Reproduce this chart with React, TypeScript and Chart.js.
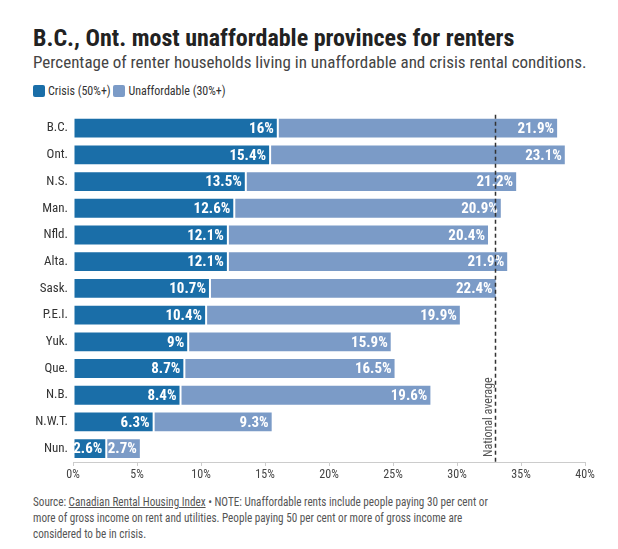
import React, { useEffect, useRef } from "react";
import { Chart, registerables } from "chart.js";

Chart.register(...registerables);

const FONT = '"Liberation Sans Narrow", "Roboto Condensed", Roboto, sans-serif';

const provinces = ["B.C.", "Ont.", "N.S.", "Man.", "Nfld.", "Alta.", "Sask.", "P.E.I.", "Yuk.", "Que.", "N.B.", "N.W.T.", "Nun."];
const crisis = [16, 15.4, 13.5, 12.6, 12.1, 12.1, 10.7, 10.4, 9, 8.7, 8.4, 6.3, 2.6];
const unaffordable = [21.9, 23.1, 21.2, 20.9, 20.4, 21.9, 22.4, 19.9, 15.9, 16.5, 19.6, 9.3, 2.7];
const seriesNames = ["Crisis (50%+)", "Unaffordable (30%+)"];
const nationalAverage = 33;
const xTicksMax = 40;

const DARK = "#1a6ea8";
const LIGHT = "#7b9bc7";

const labelPlugin = {
  id: "barLabels",
  afterDatasetsDraw(chart: any) {
    const ctx = chart.ctx;
    ctx.save();
    ctx.font = `bold 15px ${FONT}`;
    ctx.fillStyle = "#fff";
    ctx.textAlign = "right";
    ctx.textBaseline = "middle";
    chart.data.datasets.forEach((ds: any, di: number) => {
      const meta = chart.getDatasetMeta(di);
      meta.data.forEach((el: any, i: number) => {
        ctx.fillText(`${ds.data[i]}%`, el.x - 4, el.y + 1);
      });
    });
    // national average line
    const xs = chart.scales.x;
    const area = chart.chartArea;
    const px = Math.round(xs.getPixelForValue(nationalAverage)) + 0.5;
    ctx.strokeStyle = "#333";
    ctx.lineWidth = 1.5;
    ctx.setLineDash([4, 3]);
    ctx.beginPath();
    ctx.moveTo(px, area.top);
    ctx.lineTo(px, area.bottom);
    ctx.stroke();
    ctx.setLineDash([]);
    ctx.translate(px - 7, area.bottom - 5);
    ctx.rotate(-Math.PI / 2);
    ctx.font = `12px ${FONT}`;
    ctx.fillStyle = "#555";
    ctx.textAlign = "left";
    ctx.textBaseline = "middle";
    ctx.fillText("National average", 0, 0);
    ctx.restore();
  },
};

export default function App() {
  const ref = useRef<HTMLCanvasElement>(null);
  useEffect(() => {
    const chart = new Chart(ref.current!, {
      type: "bar",
      data: {
        labels: provinces,
        datasets: [
          { label: seriesNames[0], data: crisis, backgroundColor: DARK, borderColor: "#fff", borderWidth: 1, borderSkipped: false },
          { label: seriesNames[1], data: unaffordable, backgroundColor: LIGHT, borderColor: "#fff", borderWidth: 1, borderSkipped: false },
        ],
      },
      options: {
        indexAxis: "y",
        animation: false,
        responsive: false,
        layout: { padding: { top: 6, right: 25, bottom: 0, left: 0 } },
        datasets: { bar: { categoryPercentage: 1, barPercentage: 0.78 } },
        plugins: { legend: { display: false }, tooltip: { enabled: false }, title: { display: false } },
        scales: {
          x: {
            stacked: true,
            min: 0,
            max: xTicksMax,
            ticks: {
              stepSize: 5,
              callback: (v: any) => `${v}%`,
              color: "#444",
              font: { family: FONT, size: 12 },
              padding: 2,
            },
            grid: { drawOnChartArea: false, drawTicks: true, tickLength: 4, color: "#ccc" },
            border: { display: true, color: "#ccc" },
            afterFit: (s: any) => { s.height = 22; },
          },
          y: {
            stacked: true,
            ticks: { color: "#333", font: { family: FONT, size: 13 }, padding: 5 },
            grid: { display: false, drawTicks: false },
            border: { display: false },
            afterFit: (s: any) => { s.width = 65; },
          },
        },
      },
      plugins: [labelPlugin],
    } as any);
    return () => chart.destroy();
  }, []);

  const sw = (c: string) => ({
    display: "inline-block", width: 12, height: 12, background: c, borderRadius: 2, verticalAlign: "-2px", marginRight: 3,
  } as React.CSSProperties);

  const lineStyle: React.CSSProperties = { whiteSpace: "nowrap", transform: "scaleX(0.826)", transformOrigin: "left center" };

  return (
    <div style={{ fontFamily: FONT, color: "#222", width: 602 }}>
      <div style={{ paddingLeft: 25, paddingTop: 16 }}>
        <div style={{ fontSize: 24, fontWeight: "bold", color: "#222", lineHeight: "28px" }}>B.C., Ont. most unaffordable provinces for renters</div>
        <div style={{ fontSize: 17, color: "#444", lineHeight: "20px", marginTop: 0 }}>Percentage of renter households living in unaffordable and crisis rental conditions.</div>
        <div style={{ fontSize: 12, color: "#333", marginTop: 12, lineHeight: "14px" }}>
          <span style={sw(DARK)} />{seriesNames[0]} <span style={sw(LIGHT)} />{seriesNames[1]}
        </div>
      </div>
      <canvas ref={ref} width={602} height={382} style={{ display: "block", marginTop: 4 }} />
      <div style={{ paddingLeft: 25, fontSize: 13.5, color: "#555", lineHeight: "16px", marginTop: 9 }}>
        <div style={lineStyle}>Source: <span style={{ textDecoration: "underline" }}>Canadian Rental Housing Index</span> • NOTE: Unaffordable rents include people paying 30 per cent or</div>
        <div style={lineStyle}>more of gross income on rent and utilities. People paying 50 per cent or more of gross income are</div>
        <div style={lineStyle}>considered to be in crisis.</div>
      </div>
    </div>
  );
}
